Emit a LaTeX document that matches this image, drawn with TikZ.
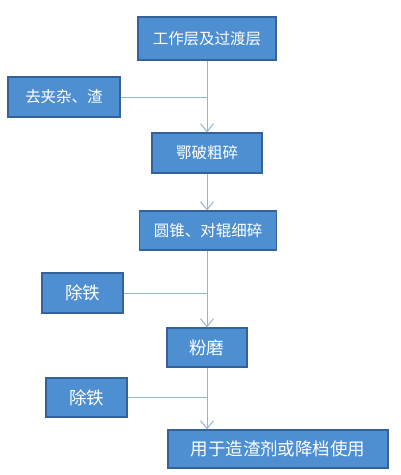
\documentclass[tikz,border=0pt]{standalone}
\usepackage{fontspec}
\setmainfont{Noto Sans CJK SC}
\usetikzlibrary{arrows.meta}
\definecolor{box-blue}{RGB}{78, 143, 210}
\definecolor{box-edge}{RGB}{52, 98, 156}
\definecolor{line-blue}{RGB}{150, 180, 210}

\tikzset{
    procbox/.style={rectangle, fill=box-blue, draw=box-edge, line width=1.2pt,
        text=white, inner sep=0pt, font=\fontsize{15.5}{18}\selectfont},
    bigtext/.style={font=\fontsize{17.5}{20}\selectfont},
    flow/.style={draw=line-blue, line width=1pt},
    flowarrow/.style={flow, -{Straight Barb[length=8pt, width=13pt]}}
}

\begin{document}
\begin{tikzpicture}[x=1pt, y=-1pt]
                \useasboundingbox (0, 0) rectangle (400, 475);
                % main steps
                \node[procbox, minimum width=138, minimum height=43] (work) at (207, 38.5) {工作层及过渡层};
                \node[procbox, minimum width=110, minimum height=40] (crush) at (207, 153) {鄂破粗碎};
                \node[procbox, minimum width=137, minimum height=39] (fine) at (208, 230.5) {圆锥、对辊细碎};
                \node[procbox, bigtext, minimum width=80, minimum height=39] (mill) at (207, 347.5) {粉磨};
                \node[procbox, bigtext, minimum width=220, minimum height=38] (use) at (278, 449) {用于造渣剂或降档使用};
                % side steps
                \node[procbox, minimum width=112, minimum height=40] (slag) at (64, 97) {去夹杂、渣};
                \node[procbox, bigtext, minimum width=81, minimum height=40] (iron1) at (82.5, 293) {除铁};
                \node[procbox, bigtext, minimum width=81, minimum height=39] (iron2) at (86.5, 397.5) {除铁};
                % connectors
                \draw[flowarrow] (work.south) -- (crush.north);
                \draw[flowarrow] (crush.south) -- (crush.south |- fine.north);
                \draw[flowarrow] (crush.south |- fine.south) -- (mill.north);
                \draw[flowarrow] (mill.south) -- (mill.south |- use.north);
                \draw[flow] (slag.east) -- (slag.east -| work.south);
                \draw[flow] (iron1.east) -- (iron1.east -| mill.north);
                \draw[flow] (iron2.east) -- (iron2.east -| mill.south);
            \end{tikzpicture}
\end{document}
